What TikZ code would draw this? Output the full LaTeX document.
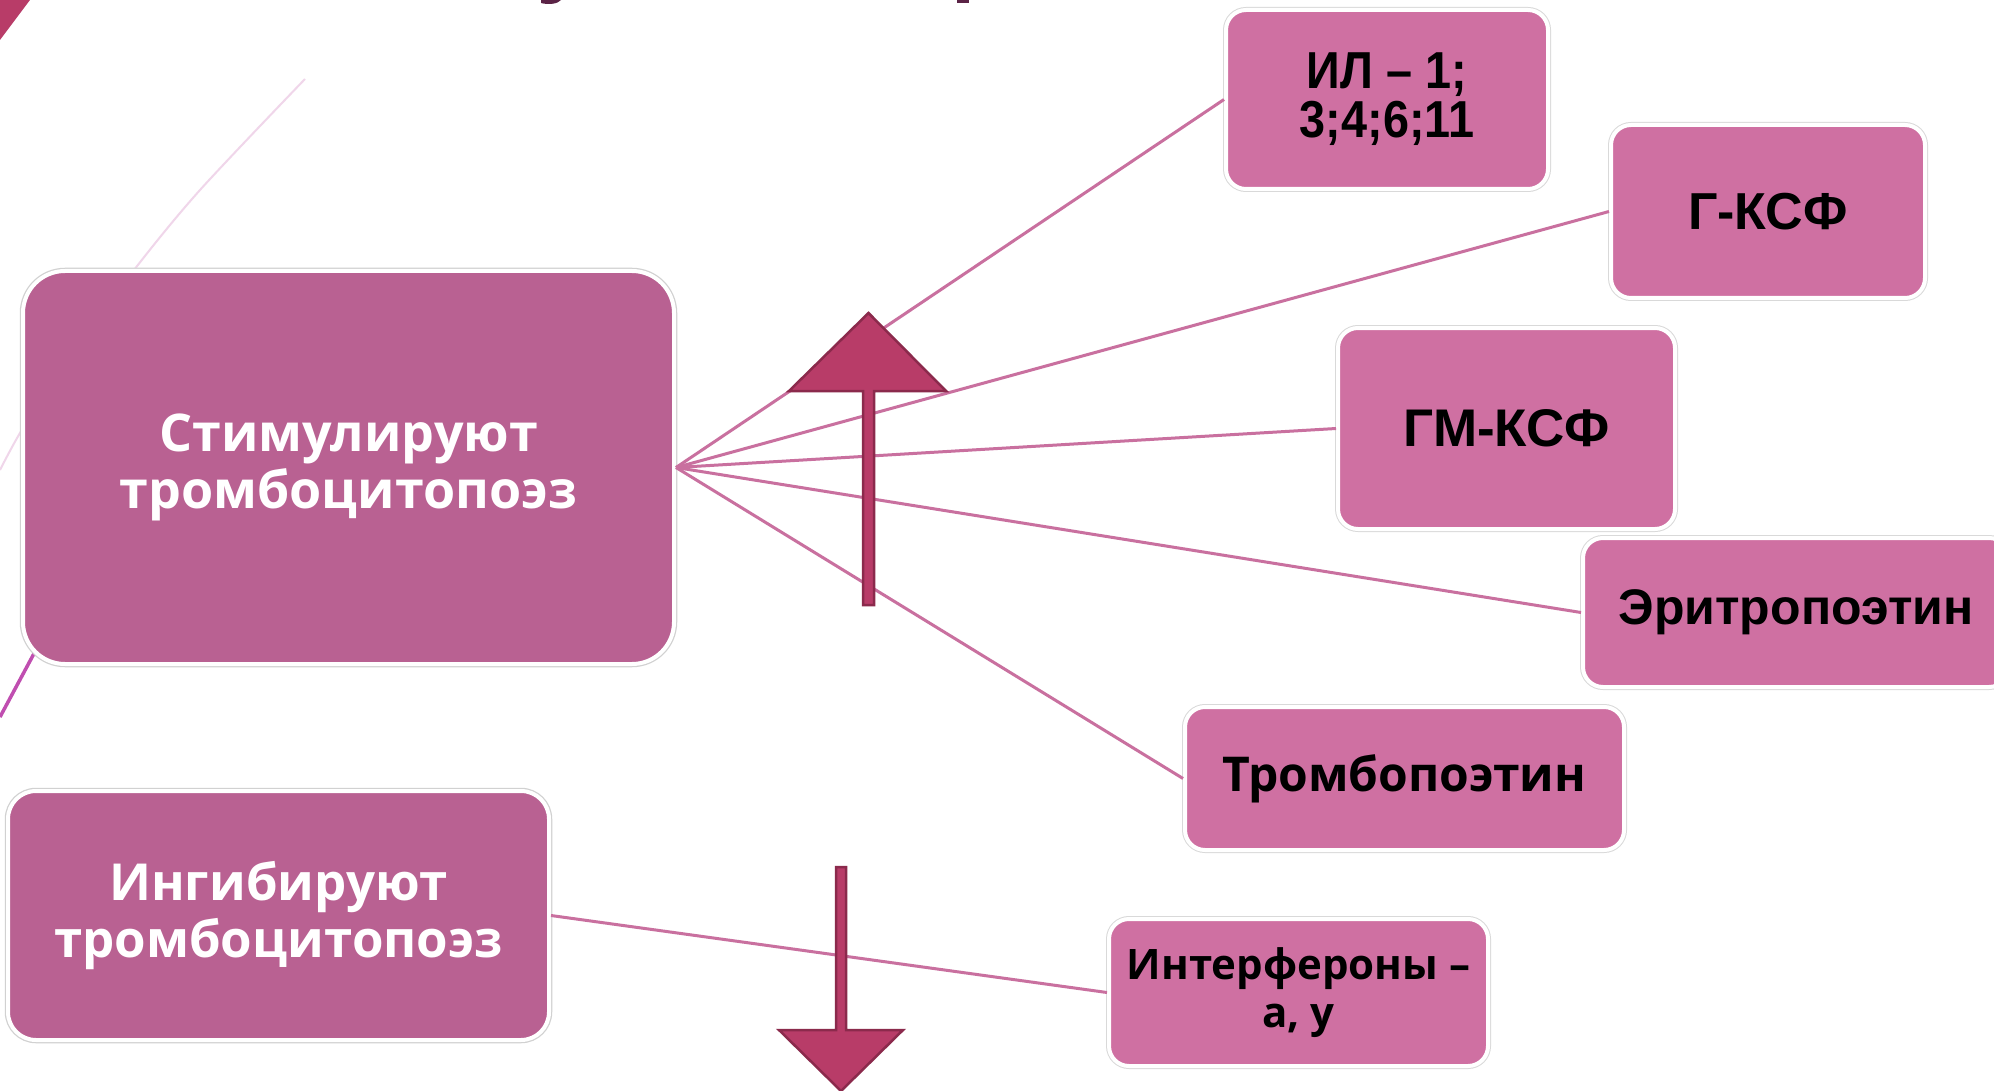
\documentclass[tikz,border=0pt]{standalone}
\usepackage{fontspec}
\setmainfont{Open Sans}
\newfontfamily\geo{Open Sans}
\newfontfamily\arialb{Liberation Sans}
\newfontfamily\narrowb{Liberation Sans}[FakeStretch=0.9]
\definecolor{parentfill}{HTML}{B96192}
\definecolor{childfill}{HTML}{CF70A2}
\definecolor{connc}{HTML}{C9709F}
\definecolor{arrowfill}{HTML}{B83C68}
\definecolor{arrowdraw}{HTML}{8B2A4C}
\definecolor{faintarc}{HTML}{F0D6EA}
\definecolor{magline}{HTML}{C04EB0}
\definecolor{titlec}{HTML}{5B2346}
\tikzset{
  parentbox/.style={rounded corners=42pt, fill=parentfill, draw=white, line width=4pt,
    preaction={draw=black!18, line width=6.5pt}, text=white, align=center, inner sep=0pt},
  childbox/.style={rounded corners=20pt, fill=childfill, draw=white, line width=4pt,
    preaction={draw=black!15, line width=6pt}, text=black, align=center, inner sep=0pt},
  conn/.style={draw=connc, line width=3pt},
  bigarrow/.style={fill=arrowfill, draw=arrowdraw, line width=2.5pt, line join=miter},
}
\begin{document}
\begin{tikzpicture}[x=1pt,y=-1pt]
\fill[white] (0,0) rectangle (1994,1091);
\useasboundingbox (0,0) rectangle (1994,1091);
% decorations
\fill[arrowfill] (0,0) -- (30,0) -- (0,40) -- cycle;
\draw[faintarc, line width=2pt] plot[smooth] coordinates {(305,79) (200,190) (134,270) (60,370) (20,433) (0,470)};
\draw[magline, line width=3.5pt] (60,605) -- (0,717);
\fill[titlec] (541,0) -- (561,0) .. controls (558,4) and (548,5) .. (541,3) -- cycle;
\fill[titlec] (957,0) rectangle (969,3);
% nodes
\node[parentbox, minimum width=651pt, minimum height=393pt,
  font=\geo\bfseries\fontsize{52}{57}\selectfont] (stim) at (348.5,467.5)
  {Стимулируют\\тромбоцитопоэз};
\node[parentbox, rounded corners=28pt, minimum width=541pt, minimum height=249pt,
  font=\geo\bfseries\fontsize{51}{57}\selectfont] (ingib) at (278.5,915.5)
  {Ингибируют\\тромбоцитопоэз};
\node[childbox, minimum width=322pt, minimum height=179pt,
  font=\narrowb\bfseries\fontsize{52}{49}\selectfont] (il) at (1387,99.5)
  {ИЛ – 1;\\3;4;6;11};
\node[childbox, minimum width=314pt, minimum height=173pt,
  font=\arialb\bfseries\fontsize{52}{52}\selectfont] (gksf) at (1768,211.5)
  {Г-КСФ};
\node[childbox, minimum width=337pt, minimum height=201pt,
  font=\arialb\bfseries\fontsize{53}{52}\selectfont] (gmksf) at (1506.5,428.5)
  {ГМ-КСФ};
\node[childbox, minimum width=426pt, minimum height=149pt,
  font=\arialb\bfseries\fontsize{50}{52}\selectfont] (erit) at (1796,612.5)
  {Эритропоэтин};
\node[childbox, minimum width=439pt, minimum height=143pt,
  font=\geo\bfseries\fontsize{48}{52}\selectfont] (tromb) at (1404.5,778.5)
  {Тромбопоэтин};
\node[childbox, minimum width=379pt, minimum height=147pt,
  font=\geo\bfseries\fontsize{42}{48}\selectfont] (interf) at (1298.5,992.5)
  {Интерфероны –\\а, у};
% connectors
\draw[conn] (stim.east) -- (il.west);
\draw[conn] (stim.east) -- (gksf.west);
\draw[conn] (stim.east) -- (gmksf.west);
\draw[conn] (stim.east) -- (erit.west);
\draw[conn] (stim.east) -- (tromb.west);
\draw[conn] (ingib.east) -- (interf.west);
% arrows
\draw[bigarrow] (863,605) -- (863,391) -- (789,391) -- (868.5,313) -- (946,391) -- (874,391) -- (874,605) -- cycle;
\draw[bigarrow] (836,867) -- (836,1030) -- (779,1030) -- (841,1091) -- (903,1030) -- (846,1030) -- (846,867) -- cycle;
\end{tikzpicture}
\end{document}
